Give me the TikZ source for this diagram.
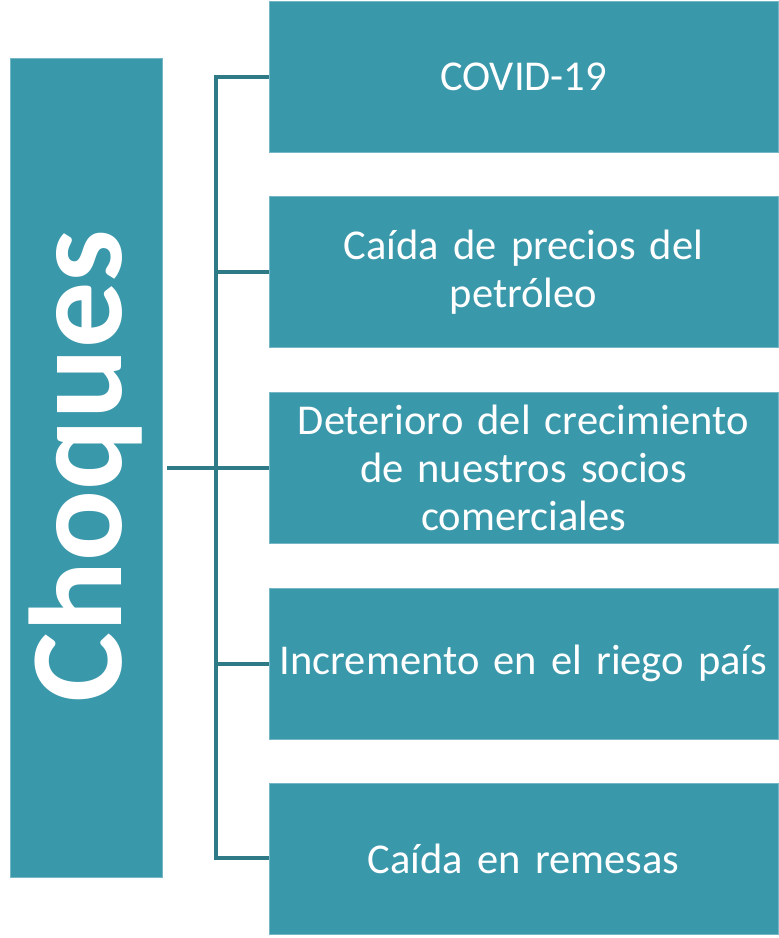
\documentclass[tikz,border=0pt]{standalone}
\usepackage{fontspec}
\setmainfont{Carlito}
\definecolor{boxfill}{HTML}{3A98AB}
\definecolor{linecol}{HTML}{2E7A87}
\begin{document}
\begin{tikzpicture}[x=1pt,y=-1pt,
  itembox/.style={fill=boxfill, draw=boxfill!70!white, line width=0.8pt, minimum width=509pt, minimum height=151pt, inner sep=0pt, text=white, align=center, text width=505pt, font=\fontsize{42.5}{48}\selectfont},
  conn/.style={draw=linecol, line width=4pt}]
\useasboundingbox (0,0) rectangle (779,938);
\node[fill=boxfill, draw=boxfill!70!white, line width=0.8pt, minimum width=152pt, minimum height=819pt, inner sep=0pt] (main) at (86,467.5) {};
\node[rotate=90, text=white, font=\bfseries\fontsize{132}{132}\selectfont] (lbl) at (86,466) {Choques};
\node[itembox] (b1) at (523.5,76.5) {COVID-19};
\node[itembox] (b2) at (523.5,272) {Caída de precios del\\petróleo};
\node[itembox] (b3) at (523.5,467.5) {Deterioro del crecimiento\\de nuestros socios\\comerciales};
\node[itembox] (b4) at (523.5,663.5) {Incremento en el riego país};
\node[itembox] (b5) at (523.5,858.5) {Caída en remesas};
\coordinate (top) at (216,77);
\coordinate (bot) at (216,858);
\draw[conn] (b1.west |- top) -- (top) -- (bot) -- (b5.west |- bot);
\draw[conn] (main.east) ++(5,0) -- (b3.west);
\draw[conn] (216,272) -- (b2.west);
\draw[conn] (216,663.5) -- (b4.west);
\end{tikzpicture}
\end{document}
